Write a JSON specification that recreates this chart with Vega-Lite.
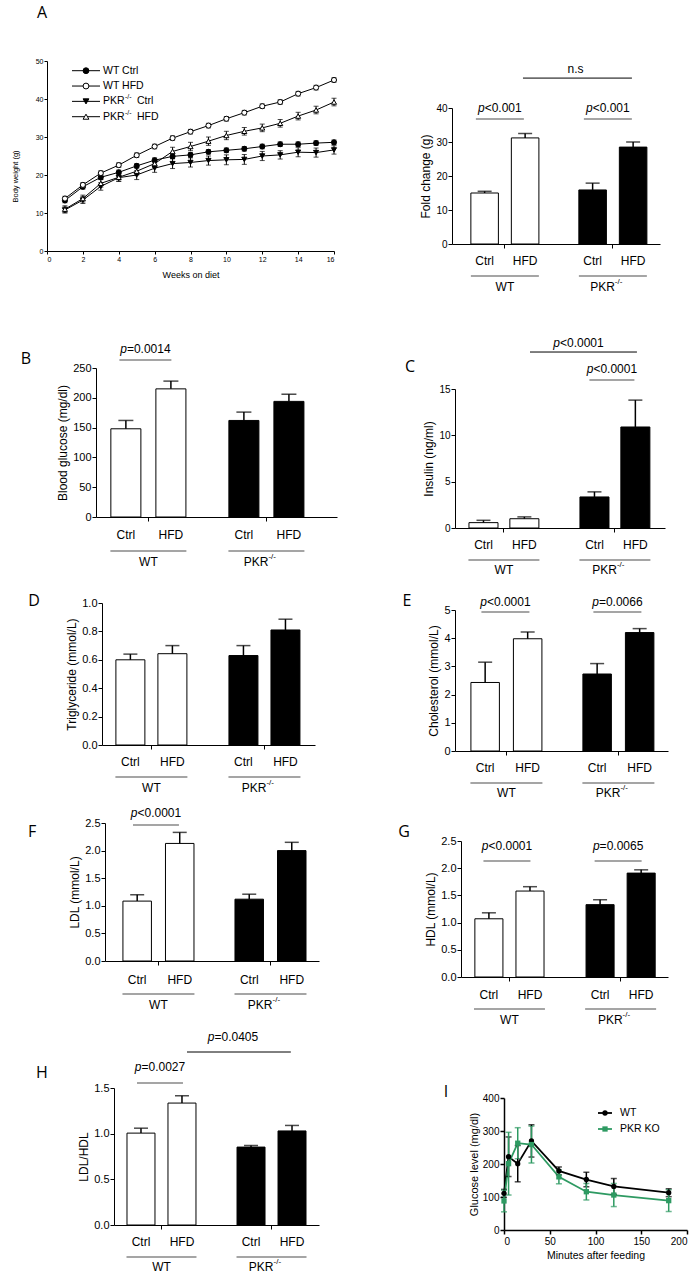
{
"$schema": "https://vega.github.io/schema/vega-lite/v6.json",
"width": 700, "height": 1276,
"autosize": {"type": "none"},
"padding": 0,
"background": "white",
"config": {
  "view": {"stroke": null},
  "font": "Liberation Sans",
  "axis": {"grid": false, "domainColor": "#000", "tickColor": "#000", "labelColor": "#000", "titleColor": "#000", "labelFont": "Liberation Sans", "titleFont": "Liberation Sans", "labelFontSize": 11, "titleFontSize": 12, "titleFontWeight": "normal", "tickSize": 4, "labelPadding": 1, "titlePadding": 3, "domainWidth": 1, "tickWidth": 1},
  "text": {"font": "Liberation Sans", "fontSize": 12, "color": "#000"},
  "tick": {"color": "#000"},
  "rule": {"color": "#000"}
},
"datasets": {
  "weight": [
    {"w":1,"s":"WT Ctrl","v":13.3,"e":0.6},{"w":2,"s":"WT Ctrl","v":16.9,"e":0.6},{"w":3,"s":"WT Ctrl","v":19.4,"e":0.6},{"w":4,"s":"WT Ctrl","v":20.7,"e":0.6},{"w":5,"s":"WT Ctrl","v":22.4,"e":0.6},{"w":6,"s":"WT Ctrl","v":23.9,"e":0.6},{"w":7,"s":"WT Ctrl","v":24.9,"e":0.6},{"w":8,"s":"WT Ctrl","v":25.3,"e":0.6},{"w":9,"s":"WT Ctrl","v":26.1,"e":0.6},{"w":10,"s":"WT Ctrl","v":26.5,"e":0.6},{"w":11,"s":"WT Ctrl","v":26.9,"e":0.6},{"w":12,"s":"WT Ctrl","v":27.5,"e":0.6},{"w":13,"s":"WT Ctrl","v":28.1,"e":0.6},{"w":14,"s":"WT Ctrl","v":28.1,"e":0.6},{"w":15,"s":"WT Ctrl","v":28.4,"e":0.6},{"w":16,"s":"WT Ctrl","v":28.6,"e":0.6},
    {"w":1,"s":"WT HFD","v":13.8,"e":0.6},{"w":2,"s":"WT HFD","v":17.4,"e":0.6},{"w":3,"s":"WT HFD","v":20.5,"e":0.6},{"w":4,"s":"WT HFD","v":22.6,"e":0.6},{"w":5,"s":"WT HFD","v":25.2,"e":0.6},{"w":6,"s":"WT HFD","v":27.5,"e":0.6},{"w":7,"s":"WT HFD","v":29.7,"e":0.6},{"w":8,"s":"WT HFD","v":31.4,"e":0.6},{"w":9,"s":"WT HFD","v":33.0,"e":0.6},{"w":10,"s":"WT HFD","v":34.8,"e":0.6},{"w":11,"s":"WT HFD","v":36.4,"e":0.6},{"w":12,"s":"WT HFD","v":38.1,"e":0.6},{"w":13,"s":"WT HFD","v":39.2,"e":0.6},{"w":14,"s":"WT HFD","v":41.4,"e":0.6},{"w":15,"s":"WT HFD","v":43.0,"e":0.6},{"w":16,"s":"WT HFD","v":45.0,"e":0.6},
    {"w":1,"s":"PKR Ctrl","v":10.8,"e":0.8},{"w":2,"s":"PKR Ctrl","v":13.4,"e":0.9},{"w":3,"s":"PKR Ctrl","v":17.0,"e":1.0},{"w":4,"s":"PKR Ctrl","v":19.3,"e":1.0},{"w":5,"s":"PKR Ctrl","v":20.0,"e":1.2},{"w":6,"s":"PKR Ctrl","v":21.8,"e":1.1},{"w":7,"s":"PKR Ctrl","v":23.0,"e":1.3},{"w":8,"s":"PKR Ctrl","v":23.3,"e":1.2},{"w":9,"s":"PKR Ctrl","v":23.8,"e":1.2},{"w":10,"s":"PKR Ctrl","v":24.0,"e":1.3},{"w":11,"s":"PKR Ctrl","v":24.1,"e":1.3},{"w":12,"s":"PKR Ctrl","v":25.0,"e":1.2},{"w":13,"s":"PKR Ctrl","v":25.3,"e":1.1},{"w":14,"s":"PKR Ctrl","v":26.0,"e":1.2},{"w":15,"s":"PKR Ctrl","v":25.9,"e":1.2},{"w":16,"s":"PKR Ctrl","v":26.6,"e":1.1},
    {"w":1,"s":"PKR HFD","v":11.0,"e":0.9},{"w":2,"s":"PKR HFD","v":13.8,"e":0.9},{"w":3,"s":"PKR HFD","v":17.8,"e":1.0},{"w":4,"s":"PKR HFD","v":19.4,"e":1.0},{"w":5,"s":"PKR HFD","v":21.0,"e":1.0},{"w":6,"s":"PKR HFD","v":23.0,"e":1.0},{"w":7,"s":"PKR HFD","v":26.2,"e":1.1},{"w":8,"s":"PKR HFD","v":27.5,"e":1.1},{"w":9,"s":"PKR HFD","v":28.9,"e":1.1},{"w":10,"s":"PKR HFD","v":30.4,"e":1.1},{"w":11,"s":"PKR HFD","v":31.5,"e":1.0},{"w":12,"s":"PKR HFD","v":32.4,"e":1.0},{"w":13,"s":"PKR HFD","v":33.6,"e":1.0},{"w":14,"s":"PKR HFD","v":35.5,"e":1.0},{"w":15,"s":"PKR HFD","v":37.1,"e":1.0},{"w":16,"s":"PKR HFD","v":39.2,"e":1.0}
  ],
  "wlegend": [
    {"s":"WT Ctrl","main":"WT Ctrl","sup":"","tail":""},
    {"s":"WT HFD","main":"WT HFD","sup":"","tail":""},
    {"s":"PKR Ctrl","main":"PKR","sup":"-/-","tail":"Ctrl"},
    {"s":"PKR HFD","main":"PKR","sup":"-/-","tail":"HFD"}
  ],
  "abar": [{"g":"WT","d":"Ctrl","v":15.0,"hi":15.5},{"g":"WT","d":"HFD","v":31.2,"hi":32.5},{"g":"PKR","d":"Ctrl","v":15.9,"hi":17.9},{"g":"PKR","d":"HFD","v":28.5,"hi":30.0}],
  "glucose": [{"g":"WT","d":"Ctrl","v":148,"hi":162},{"g":"WT","d":"HFD","v":215,"hi":228},{"g":"PKR","d":"Ctrl","v":162,"hi":176},{"g":"PKR","d":"HFD","v":194,"hi":206}],
  "insulin": [{"g":"WT","d":"Ctrl","v":0.58,"hi":0.83},{"g":"WT","d":"HFD","v":1.0,"hi":1.2},{"g":"PKR","d":"Ctrl","v":3.35,"hi":3.9},{"g":"PKR","d":"HFD","v":10.9,"hi":13.8}],
  "tg": [{"g":"WT","d":"Ctrl","v":0.60,"hi":0.64},{"g":"WT","d":"HFD","v":0.643,"hi":0.70},{"g":"PKR","d":"Ctrl","v":0.63,"hi":0.70},{"g":"PKR","d":"HFD","v":0.81,"hi":0.886}],
  "chol": [{"g":"WT","d":"Ctrl","v":2.43,"hi":3.15},{"g":"WT","d":"HFD","v":3.98,"hi":4.22},{"g":"PKR","d":"Ctrl","v":2.73,"hi":3.1},{"g":"PKR","d":"HFD","v":4.2,"hi":4.34}],
  "ldl": [{"g":"WT","d":"Ctrl","v":1.085,"hi":1.2},{"g":"WT","d":"HFD","v":2.13,"hi":2.33},{"g":"PKR","d":"Ctrl","v":1.12,"hi":1.21},{"g":"PKR","d":"HFD","v":2.0,"hi":2.15}],
  "hdl": [{"g":"WT","d":"Ctrl","v":1.07,"hi":1.18},{"g":"WT","d":"HFD","v":1.58,"hi":1.66},{"g":"PKR","d":"Ctrl","v":1.33,"hi":1.42},{"g":"PKR","d":"HFD","v":1.91,"hi":1.97}],
  "ratio": [{"g":"WT","d":"Ctrl","v":1.006,"hi":1.06},{"g":"WT","d":"HFD","v":1.335,"hi":1.415},{"g":"PKR","d":"Ctrl","v":0.853,"hi":0.87},{"g":"PKR","d":"HFD","v":1.03,"hi":1.09}],
  "groups": [{"g":"WT"},{"g":"PKR"}],
  "ogtt": [
    {"t":0,"s":"WT","v":111,"e":12},{"t":5,"s":"WT","v":222,"e":60},{"t":15,"s":"WT","v":201,"e":55},{"t":30,"s":"WT","v":270,"e":49},{"t":60,"s":"WT","v":179,"e":12},{"t":90,"s":"WT","v":153,"e":22},{"t":120,"s":"WT","v":132,"e":24},{"t":180,"s":"WT","v":113,"e":12},
    {"t":0,"s":"PKR KO","v":88,"e":33},{"t":5,"s":"PKR KO","v":201,"e":95},{"t":15,"s":"PKR KO","v":263,"e":47},{"t":30,"s":"PKR KO","v":259,"e":56},{"t":60,"s":"PKR KO","v":161,"e":21},{"t":90,"s":"PKR KO","v":116,"e":25},{"t":120,"s":"PKR KO","v":106,"e":35},{"t":180,"s":"PKR KO","v":89,"e":33}
  ]
},
"layer": [
{
  "layer": [
    {"data": {"name": "weight"},
     "layer": [
      {"mark": {"type": "line", "color": "#000", "strokeWidth": 1},
       "encoding": {
        "x": {"field": "w", "type": "quantitative", "title": "Weeks on diet", "scale": {"domain": [0,16], "range": [47,334], "nice": false}, "axis": {"orient": "bottom", "offset": -1025, "values": [0,2,4,6,8,10,12,14,16], "title": "Weeks on diet", "labelFontSize": 7, "titleFontSize": 9, "tickSize": 3, "titlePadding": 8}},
        "y": {"field": "v", "type": "quantitative", "title": "Body weight (g)", "scale": {"domain": [0,50], "range": [251,61], "nice": false}, "axis": {"orient": "left", "offset": -47, "values": [0,10,20,30,40,50], "title": "Body weight (g)", "titleY": 176, "labelFontSize": 7, "titleFontSize": 7.5, "tickSize": 3, "titlePadding": 16}},
        "detail": {"field": "s", "type": "nominal"}}},
      {"mark": {"type": "errorbar", "color": "#000", "thickness": 1, "ticks": {"size": 5}},
       "encoding": {"x": {"field": "w", "type": "quantitative", "title": "Weeks on diet"}, "y": {"field": "v", "type": "quantitative", "title": "Body weight (g)"}, "yError": {"field": "e"}}},
      {"mark": {"type": "point", "filled": true, "stroke": "#000", "strokeWidth": 1, "size": 26, "opacity": 1},
       "encoding": {"x": {"field": "w", "type": "quantitative", "title": "Weeks on diet"}, "y": {"field": "v", "type": "quantitative", "title": "Body weight (g)"},
        "shape": {"field": "s", "type": "nominal", "scale": {"domain": ["WT Ctrl","WT HFD","PKR Ctrl","PKR HFD"], "range": ["circle","circle","triangle-down","triangle-up"]}, "legend": null},
        "fill": {"field": "s", "type": "nominal", "scale": {"domain": ["WT Ctrl","WT HFD","PKR Ctrl","PKR HFD"], "range": ["#000000","#ffffff","#000000","#ffffff"]}, "legend": null}}},
      {"data": {"values": [{"letter": "A"}]},
       "mark": {"type": "text", "font": "Open Sans", "fontSize": 16, "baseline": "middle"},
       "encoding": {"x": {"datum": -0.279}, "y": {"datum": 62.6}, "text": {"field": "letter"}}}
     ]},
    {"data": {"name": "wlegend"},
     "layer": [
      {"mark": {"type": "rule", "strokeWidth": 1},
       "encoding": {"x": {"datum": 1.394}, "x2": {"datum": 2.955}, "y": {"field": "s", "type": "nominal", "sort": null, "scale": {"type": "point", "domain": ["WT Ctrl","WT HFD","PKR Ctrl","PKR HFD"], "range": [70.7,116.7], "padding": 0}, "axis": null}}},
      {"mark": {"type": "point", "filled": true, "stroke": "#000", "strokeWidth": 1, "size": 34, "opacity": 1},
       "encoding": {"x": {"datum": 2.174}, "y": {"field": "s", "type": "nominal"}, "shape": {"field": "s", "type": "nominal"}, "fill": {"field": "s", "type": "nominal"}}},
      {"mark": {"type": "text", "align": "left", "baseline": "middle", "fontSize": 10.5},
       "encoding": {"x": {"datum": 3.122}, "y": {"field": "s", "type": "nominal"}, "text": {"field": "main"}}},
      {"mark": {"type": "text", "align": "left", "baseline": "middle", "fontSize": 7, "dx": 22, "dy": -4},
       "encoding": {"x": {"datum": 3.122}, "y": {"field": "s", "type": "nominal"}, "text": {"field": "sup"}}},
      {"mark": {"type": "text", "align": "left", "baseline": "middle", "fontSize": 10.5, "dx": 34},
       "encoding": {"x": {"datum": 3.122}, "y": {"field": "s", "type": "nominal"}, "text": {"field": "tail"}}}
     ]}
  ],
  "resolve": {"scale": {"y": "independent"}}
},
{
  "data": {"name": "abar"},
  "layer": [
    {"mark": {"type": "bar", "stroke": "#000", "strokeWidth": 1},
     "encoding": {
      "x": {"field": "g", "type": "nominal", "sort": null, "scale": {"type": "band", "domain": ["WT","PKR"], "range": [452,660], "paddingInner": 0.37, "paddingOuter": 0.148, "align": 0.59}, "axis": {"orient": "bottom", "offset": -1032, "labels": false, "title": null}},
      "xOffset": {"field": "d", "type": "nominal", "sort": null, "scale": {"type": "band", "domain": ["Ctrl","HFD"], "paddingInner": 0.32, "paddingOuter": 0}},
      "y": {"field": "v", "type": "quantitative", "scale": {"domain": [0,40], "range": [244,108], "nice": false}, "axis": {"orient": "left", "offset": -452, "values": [0,10,20,30,40], "format": "d", "title": "Fold change (g)", "labelFontSize": 10}},
      "fill": {"field": "g", "type": "nominal", "scale": {"domain": ["WT","PKR"], "range": ["#ffffff","#000000"]}, "legend": null}}},
    {"mark": {"type": "rule", "strokeWidth": 1.5},
     "encoding": {"x": {"field": "g", "type": "nominal"}, "xOffset": {"field": "d", "type": "nominal"}, "y": {"field": "v", "type": "quantitative"}, "y2": {"field": "hi"}}},
    {"mark": {"type": "tick", "orient": "horizontal", "size": 14, "thickness": 1.5},
     "encoding": {"x": {"field": "g", "type": "nominal"}, "xOffset": {"field": "d", "type": "nominal"}, "y": {"field": "hi", "type": "quantitative"}}},
    {"mark": {"type": "text", "baseline": "middle"},
     "encoding": {"x": {"field": "g", "type": "nominal"}, "xOffset": {"field": "d", "type": "nominal"}, "y": {"datum": -5.0}, "text": {"field": "d"}}},
    {"data": {"name": "groups"}, "mark": {"type": "tick", "orient": "horizontal", "size": 68, "thickness": 1},
     "encoding": {"x": {"field": "g", "type": "nominal"}, "y": {"datum": -9.41}}},
    {"data": {"values": [{"g": "WT", "name": "WT"}]}, "mark": {"type": "text", "baseline": "middle"},
     "encoding": {"x": {"field": "g", "type": "nominal"}, "y": {"datum": -12.65}, "text": {"field": "name"}}},
    {"data": {"values": [{"g": "PKR", "name": "PKR"}]}, "mark": {"type": "text", "baseline": "middle", "align": "right", "dx": 2},
     "encoding": {"x": {"field": "g", "type": "nominal"}, "y": {"datum": -12.65}, "text": {"field": "name"}}},
    {"data": {"values": [{"g": "PKR", "sup": "-/-"}]}, "mark": {"type": "text", "baseline": "middle", "align": "left", "dx": 2, "dy": -5, "fontSize": 8},
     "encoding": {"x": {"field": "g", "type": "nominal"}, "y": {"datum": -12.65}, "text": {"field": "sup"}}},
    {"data": {"values": [{"g": "WT", "p": "<0.001"}, {"g": "PKR", "p": "<0.001"}]},
     "layer": [
      {"mark": {"type": "tick", "orient": "horizontal", "size": 48, "thickness": 1, "xOffset": -5},
       "encoding": {"x": {"field": "g", "type": "nominal"}, "y": {"datum": 36.76}}},
      {"mark": {"type": "text", "text": "p", "fontStyle": "italic", "align": "right", "baseline": "middle", "dx": -20.2},
       "encoding": {"x": {"field": "g", "type": "nominal"}, "y": {"datum": 40}}},
      {"mark": {"type": "text", "align": "left", "baseline": "middle", "dx": -20.2},
       "encoding": {"x": {"field": "g", "type": "nominal"}, "y": {"datum": 40}, "text": {"field": "p"}}}
     ]},
    {"data": {"values": [{"lab": "n.s"}]},
     "layer": [
      {"mark": {"type": "rule", "strokeWidth": 1},
       "encoding": {"x": {"datum": "WT", "bandPosition": 0.766}, "x2": {"datum": "PKR", "bandPosition": 0.78}, "y": {"datum": 48.8}}},
      {"mark": {"type": "text", "baseline": "middle", "dx": -2},
       "encoding": {"x": {"datum": "WT", "bandPosition": 1.567}, "y": {"datum": 51.5}, "text": {"field": "lab"}}}
     ]}
  ]
},
{
  "data": {"name": "glucose"},
  "layer": [
    {"mark": {"type": "bar", "stroke": "#000", "strokeWidth": 1},
     "encoding": {
      "x": {"field": "g", "type": "nominal", "sort": null, "scale": {"type": "band", "domain": ["WT","PKR"], "range": [96,337], "paddingInner": 0.364, "paddingOuter": 0.203, "align": 0.31}, "axis": {"orient": "bottom", "offset": -759, "labels": false, "title": null}},
      "xOffset": {"field": "d", "type": "nominal", "sort": null, "scale": {"type": "band", "domain": ["Ctrl","HFD"], "paddingInner": 0.333, "paddingOuter": 0}},
      "y": {"field": "v", "type": "quantitative", "scale": {"domain": [0,250], "range": [517,368], "nice": false}, "axis": {"orient": "left", "offset": -96, "values": [0,50,100,150,200,250], "format": "d", "title": "Blood glucose (mg/dl)"}},
      "fill": {"field": "g", "type": "nominal", "scale": {"domain": ["WT","PKR"], "range": ["#ffffff","#000000"]}, "legend": null}}},
    {"mark": {"type": "rule", "strokeWidth": 1.5},
     "encoding": {"x": {"field": "g", "type": "nominal"}, "xOffset": {"field": "d", "type": "nominal"}, "y": {"field": "v", "type": "quantitative"}, "y2": {"field": "hi"}}},
    {"mark": {"type": "tick", "orient": "horizontal", "size": 15, "thickness": 1.5},
     "encoding": {"x": {"field": "g", "type": "nominal"}, "xOffset": {"field": "d", "type": "nominal"}, "y": {"field": "hi", "type": "quantitative"}}},
    {"mark": {"type": "text", "baseline": "middle"},
     "encoding": {"x": {"field": "g", "type": "nominal"}, "xOffset": {"field": "d", "type": "nominal"}, "y": {"datum": -30.2}, "text": {"field": "d"}}},
    {"data": {"name": "groups"}, "mark": {"type": "tick", "orient": "horizontal", "size": 76, "thickness": 1},
     "encoding": {"x": {"field": "g", "type": "nominal"}, "y": {"datum": -57.0}}},
    {"data": {"values": [{"g": "WT", "name": "WT"}]}, "mark": {"type": "text", "baseline": "middle"},
     "encoding": {"x": {"field": "g", "type": "nominal"}, "y": {"datum": -75.5}, "text": {"field": "name"}}},
    {"data": {"values": [{"g": "PKR", "name": "PKR"}]}, "mark": {"type": "text", "baseline": "middle", "align": "right", "dx": 2},
     "encoding": {"x": {"field": "g", "type": "nominal"}, "y": {"datum": -75.5}, "text": {"field": "name"}}},
    {"data": {"values": [{"g": "PKR", "sup": "-/-"}]}, "mark": {"type": "text", "baseline": "middle", "align": "left", "dx": 2, "dy": -5, "fontSize": 8},
     "encoding": {"x": {"field": "g", "type": "nominal"}, "y": {"datum": -75.5}, "text": {"field": "sup"}}},
    {"data": {"values": [{"g": "WT", "p": "=0.0014"}]},
     "layer": [
      {"mark": {"type": "tick", "orient": "horizontal", "size": 52, "thickness": 1, "xOffset": -3},
       "encoding": {"x": {"field": "g", "type": "nominal"}, "y": {"datum": 263.4}}},
      {"mark": {"type": "text", "text": "p", "fontStyle": "italic", "align": "right", "baseline": "middle", "dx": -21.5},
       "encoding": {"x": {"field": "g", "type": "nominal"}, "y": {"datum": 281.9}}},
      {"mark": {"type": "text", "align": "left", "baseline": "middle", "dx": -21.5},
       "encoding": {"x": {"field": "g", "type": "nominal"}, "y": {"datum": 281.9}, "text": {"field": "p"}}}
     ]},
    {"data": {"values": [{"letter": "B"}]},
     "mark": {"type": "text", "font": "Open Sans", "fontSize": 16, "baseline": "middle"},
     "encoding": {"x": {"datum": "WT", "bandPosition": -1.131}, "y": {"datum": 265.1}, "text": {"field": "letter"}}}
  ]
},
{
  "data": {"name": "insulin"},
  "layer": [
    {"mark": {"type": "bar", "stroke": "#000", "strokeWidth": 1},
     "encoding": {
      "x": {"field": "g", "type": "nominal", "sort": null, "scale": {"type": "band", "domain": ["WT","PKR"], "range": [455,665], "paddingInner": 0.37, "paddingOuter": 0.131, "align": 0.48}, "axis": {"orient": "bottom", "offset": -748, "labels": false, "title": null}},
      "xOffset": {"field": "d", "type": "nominal", "sort": null, "scale": {"type": "band", "domain": ["Ctrl","HFD"], "paddingInner": 0.29, "paddingOuter": 0}},
      "y": {"field": "v", "type": "quantitative", "scale": {"domain": [0,15], "range": [528,389], "nice": false}, "axis": {"orient": "left", "offset": -455, "values": [0,5,10,15], "format": "d", "title": "Insulin (ng/ml)", "labelFontSize": 10}},
      "fill": {"field": "g", "type": "nominal", "scale": {"domain": ["WT","PKR"], "range": ["#ffffff","#000000"]}, "legend": null}}},
    {"mark": {"type": "rule", "strokeWidth": 1.5},
     "encoding": {"x": {"field": "g", "type": "nominal"}, "xOffset": {"field": "d", "type": "nominal"}, "y": {"field": "v", "type": "quantitative"}, "y2": {"field": "hi"}}},
    {"mark": {"type": "tick", "orient": "horizontal", "size": 14, "thickness": 1.5},
     "encoding": {"x": {"field": "g", "type": "nominal"}, "xOffset": {"field": "d", "type": "nominal"}, "y": {"field": "hi", "type": "quantitative"}}},
    {"mark": {"type": "text", "baseline": "middle"},
     "encoding": {"x": {"field": "g", "type": "nominal"}, "xOffset": {"field": "d", "type": "nominal"}, "y": {"datum": -1.83}, "text": {"field": "d"}}},
    {"data": {"name": "groups"}, "mark": {"type": "tick", "orient": "horizontal", "size": 71, "thickness": 1},
     "encoding": {"x": {"field": "g", "type": "nominal"}, "y": {"datum": -3.45}}},
    {"data": {"values": [{"g": "WT", "name": "WT"}]}, "mark": {"type": "text", "baseline": "middle"},
     "encoding": {"x": {"field": "g", "type": "nominal"}, "y": {"datum": -4.53}, "text": {"field": "name"}}},
    {"data": {"values": [{"g": "PKR", "name": "PKR"}]}, "mark": {"type": "text", "baseline": "middle", "align": "right", "dx": 2},
     "encoding": {"x": {"field": "g", "type": "nominal"}, "y": {"datum": -4.53}, "text": {"field": "name"}}},
    {"data": {"values": [{"g": "PKR", "sup": "-/-"}]}, "mark": {"type": "text", "baseline": "middle", "align": "left", "dx": 2, "dy": -5, "fontSize": 8},
     "encoding": {"x": {"field": "g", "type": "nominal"}, "y": {"datum": -4.53}, "text": {"field": "sup"}}},
    {"data": {"values": [{"g": "PKR", "p": "<0.0001"}]},
     "layer": [
      {"mark": {"type": "tick", "orient": "horizontal", "size": 45, "thickness": 1, "xOffset": -3},
       "encoding": {"x": {"field": "g", "type": "nominal"}, "y": {"datum": 15.97}}},
      {"mark": {"type": "text", "text": "p", "fontStyle": "italic", "align": "right", "baseline": "middle", "dx": -21.5},
       "encoding": {"x": {"field": "g", "type": "nominal"}, "y": {"datum": 17.16}}},
      {"mark": {"type": "text", "align": "left", "baseline": "middle", "dx": -21.5},
       "encoding": {"x": {"field": "g", "type": "nominal"}, "y": {"datum": 17.16}, "text": {"field": "p"}}}
     ]},
    {"data": {"values": [{"p": "<0.0001"}]},
     "layer": [
      {"mark": {"type": "rule", "strokeWidth": 1},
       "encoding": {"x": {"datum": "WT", "bandPosition": 0.873}, "x2": {"datum": "PKR", "bandPosition": 0.815}, "y": {"datum": 18.99}}},
      {"mark": {"type": "text", "text": "p", "fontStyle": "italic", "align": "right", "baseline": "middle", "dx": -23.5},
       "encoding": {"x": {"datum": "WT", "bandPosition": 1.638}, "y": {"datum": 19.96}}},
      {"mark": {"type": "text", "align": "left", "baseline": "middle", "dx": -23.5},
       "encoding": {"x": {"datum": "WT", "bandPosition": 1.638}, "y": {"datum": 19.96}, "text": {"field": "p"}}}
     ]},
    {"data": {"values": [{"letter": "C"}]},
     "mark": {"type": "text", "font": "Open Sans", "fontSize": 16, "baseline": "middle"},
     "encoding": {"x": {"datum": "WT", "bandPosition": -0.844}, "y": {"datum": 17.37}, "text": {"field": "letter"}}}
  ]
},
{
  "data": {"name": "tg"},
  "layer": [
    {"mark": {"type": "bar", "stroke": "#000", "strokeWidth": 1},
     "encoding": {
      "x": {"field": "g", "type": "nominal", "sort": null, "scale": {"type": "band", "domain": ["WT","PKR"], "range": [102,315], "paddingInner": 0.372, "paddingOuter": 0.128, "align": 0.48}, "axis": {"orient": "bottom", "offset": -531, "labels": false, "title": null}},
      "xOffset": {"field": "d", "type": "nominal", "sort": null, "scale": {"type": "band", "domain": ["Ctrl","HFD"], "paddingInner": 0.31, "paddingOuter": 0}},
      "y": {"field": "v", "type": "quantitative", "scale": {"domain": [0,1], "range": [745,603], "nice": false}, "axis": {"orient": "left", "offset": -102, "values": [0,0.2,0.4,0.6,0.8,1.0], "format": ".1f", "title": "Triglyceride (mmol/L)"}},
      "fill": {"field": "g", "type": "nominal", "scale": {"domain": ["WT","PKR"], "range": ["#ffffff","#000000"]}, "legend": null}}},
    {"mark": {"type": "rule", "strokeWidth": 1.5},
     "encoding": {"x": {"field": "g", "type": "nominal"}, "xOffset": {"field": "d", "type": "nominal"}, "y": {"field": "v", "type": "quantitative"}, "y2": {"field": "hi"}}},
    {"mark": {"type": "tick", "orient": "horizontal", "size": 14, "thickness": 1.5},
     "encoding": {"x": {"field": "g", "type": "nominal"}, "xOffset": {"field": "d", "type": "nominal"}, "y": {"field": "hi", "type": "quantitative"}}},
    {"mark": {"type": "text", "baseline": "middle"},
     "encoding": {"x": {"field": "g", "type": "nominal"}, "xOffset": {"field": "d", "type": "nominal"}, "y": {"datum": -0.1197}, "text": {"field": "d"}}},
    {"data": {"name": "groups"}, "mark": {"type": "tick", "orient": "horizontal", "size": 72, "thickness": 1},
     "encoding": {"x": {"field": "g", "type": "nominal"}, "y": {"datum": -0.2254}}},
    {"data": {"values": [{"g": "WT", "name": "WT"}]}, "mark": {"type": "text", "baseline": "middle"},
     "encoding": {"x": {"field": "g", "type": "nominal"}, "y": {"datum": -0.303}, "text": {"field": "name"}}},
    {"data": {"values": [{"g": "PKR", "name": "PKR"}]}, "mark": {"type": "text", "baseline": "middle", "align": "right", "dx": 2},
     "encoding": {"x": {"field": "g", "type": "nominal"}, "y": {"datum": -0.303}, "text": {"field": "name"}}},
    {"data": {"values": [{"g": "PKR", "sup": "-/-"}]}, "mark": {"type": "text", "baseline": "middle", "align": "left", "dx": 2, "dy": -5, "fontSize": 8},
     "encoding": {"x": {"field": "g", "type": "nominal"}, "y": {"datum": -0.303}, "text": {"field": "sup"}}},
    {"data": {"values": [{"letter": "D"}]},
     "mark": {"type": "text", "font": "Open Sans", "fontSize": 16, "baseline": "middle"},
     "encoding": {"x": {"datum": "WT", "bandPosition": -1.153}, "y": {"datum": 1.014}, "text": {"field": "letter"}}}
  ]
},
{
  "data": {"name": "chol"},
  "layer": [
    {"mark": {"type": "bar", "stroke": "#000", "strokeWidth": 1},
     "encoding": {
      "x": {"field": "g", "type": "nominal", "sort": null, "scale": {"type": "band", "domain": ["WT","PKR"], "range": [455,668], "paddingInner": 0.366, "paddingOuter": 0.134, "align": 0.53}, "axis": {"orient": "bottom", "offset": -525, "labels": false, "title": null}},
      "xOffset": {"field": "d", "type": "nominal", "sort": null, "scale": {"type": "band", "domain": ["Ctrl","HFD"], "paddingInner": 0.33, "paddingOuter": 0}},
      "y": {"field": "v", "type": "quantitative", "scale": {"domain": [0,5], "range": [751,610], "nice": false}, "axis": {"orient": "left", "offset": -455, "values": [0,1,2,3,4,5], "format": "d", "title": "Cholesterol (mmol/L)"}},
      "fill": {"field": "g", "type": "nominal", "scale": {"domain": ["WT","PKR"], "range": ["#ffffff","#000000"]}, "legend": null}}},
    {"mark": {"type": "rule", "strokeWidth": 1.5},
     "encoding": {"x": {"field": "g", "type": "nominal"}, "xOffset": {"field": "d", "type": "nominal"}, "y": {"field": "v", "type": "quantitative"}, "y2": {"field": "hi"}}},
    {"mark": {"type": "tick", "orient": "horizontal", "size": 14, "thickness": 1.5},
     "encoding": {"x": {"field": "g", "type": "nominal"}, "xOffset": {"field": "d", "type": "nominal"}, "y": {"field": "hi", "type": "quantitative"}}},
    {"mark": {"type": "text", "baseline": "middle"},
     "encoding": {"x": {"field": "g", "type": "nominal"}, "xOffset": {"field": "d", "type": "nominal"}, "y": {"datum": -0.603}, "text": {"field": "d"}}},
    {"data": {"name": "groups"}, "mark": {"type": "tick", "orient": "horizontal", "size": 72, "thickness": 1},
     "encoding": {"x": {"field": "g", "type": "nominal"}, "y": {"datum": -1.135}}},
    {"data": {"values": [{"g": "WT", "name": "WT"}]}, "mark": {"type": "text", "baseline": "middle"},
     "encoding": {"x": {"field": "g", "type": "nominal"}, "y": {"datum": -1.489}, "text": {"field": "name"}}},
    {"data": {"values": [{"g": "PKR", "name": "PKR"}]}, "mark": {"type": "text", "baseline": "middle", "align": "right", "dx": 2},
     "encoding": {"x": {"field": "g", "type": "nominal"}, "y": {"datum": -1.489}, "text": {"field": "name"}}},
    {"data": {"values": [{"g": "PKR", "sup": "-/-"}]}, "mark": {"type": "text", "baseline": "middle", "align": "left", "dx": 2, "dy": -5, "fontSize": 8},
     "encoding": {"x": {"field": "g", "type": "nominal"}, "y": {"datum": -1.489}, "text": {"field": "sup"}}},
    {"data": {"values": [{"g": "WT", "p": "<0.0001"}, {"g": "PKR", "p": "=0.0066"}]},
     "layer": [
      {"mark": {"type": "tick", "orient": "horizontal", "size": 48, "thickness": 1, "xOffset": -1},
       "encoding": {"x": {"field": "g", "type": "nominal"}, "y": {"datum": 4.93}}},
      {"mark": {"type": "text", "text": "p", "fontStyle": "italic", "align": "right", "baseline": "middle", "dx": -19.5},
       "encoding": {"x": {"field": "g", "type": "nominal"}, "y": {"datum": 5.28}}},
      {"mark": {"type": "text", "align": "left", "baseline": "middle", "dx": -19.5},
       "encoding": {"x": {"field": "g", "type": "nominal"}, "y": {"datum": 5.28}, "text": {"field": "p"}}}
     ]},
    {"data": {"values": [{"letter": "E"}]},
     "mark": {"type": "text", "font": "Open Sans", "fontSize": 16, "baseline": "middle"},
     "encoding": {"x": {"datum": "WT", "bandPosition": -0.9}, "y": {"datum": 5.319}, "text": {"field": "letter"}}}
  ]
},
{
  "data": {"name": "ldl"},
  "layer": [
    {"mark": {"type": "bar", "stroke": "#000", "strokeWidth": 1},
     "encoding": {
      "x": {"field": "g", "type": "nominal", "sort": null, "scale": {"type": "band", "domain": ["WT","PKR"], "range": [105,319], "paddingInner": 0.366, "paddingOuter": 0.138, "align": 0.58}, "axis": {"orient": "bottom", "offset": -315, "labels": false, "title": null}},
      "xOffset": {"field": "d", "type": "nominal", "sort": null, "scale": {"type": "band", "domain": ["Ctrl","HFD"], "paddingInner": 0.33, "paddingOuter": 0}},
      "y": {"field": "v", "type": "quantitative", "scale": {"domain": [0,2.5], "range": [961,823], "nice": false}, "axis": {"orient": "left", "offset": -105, "values": [0,0.5,1,1.5,2,2.5], "format": ".1f", "title": "LDL (mmol/L)"}},
      "fill": {"field": "g", "type": "nominal", "scale": {"domain": ["WT","PKR"], "range": ["#ffffff","#000000"]}, "legend": null}}},
    {"mark": {"type": "rule", "strokeWidth": 1.5},
     "encoding": {"x": {"field": "g", "type": "nominal"}, "xOffset": {"field": "d", "type": "nominal"}, "y": {"field": "v", "type": "quantitative"}, "y2": {"field": "hi"}}},
    {"mark": {"type": "tick", "orient": "horizontal", "size": 14, "thickness": 1.5},
     "encoding": {"x": {"field": "g", "type": "nominal"}, "xOffset": {"field": "d", "type": "nominal"}, "y": {"field": "hi", "type": "quantitative"}}},
    {"mark": {"type": "text", "baseline": "middle"},
     "encoding": {"x": {"field": "g", "type": "nominal"}, "xOffset": {"field": "d", "type": "nominal"}, "y": {"datum": -0.344}, "text": {"field": "d"}}},
    {"data": {"name": "groups"}, "mark": {"type": "tick", "orient": "horizontal", "size": 72, "thickness": 1},
     "encoding": {"x": {"field": "g", "type": "nominal"}, "y": {"datum": -0.598}}},
    {"data": {"values": [{"g": "WT", "name": "WT"}]}, "mark": {"type": "text", "baseline": "middle"},
     "encoding": {"x": {"field": "g", "type": "nominal"}, "y": {"datum": -0.797}, "text": {"field": "name"}}},
    {"data": {"values": [{"g": "PKR", "name": "PKR"}]}, "mark": {"type": "text", "baseline": "middle", "align": "right", "dx": 2},
     "encoding": {"x": {"field": "g", "type": "nominal"}, "y": {"datum": -0.797}, "text": {"field": "name"}}},
    {"data": {"values": [{"g": "PKR", "sup": "-/-"}]}, "mark": {"type": "text", "baseline": "middle", "align": "left", "dx": 2, "dy": -5, "fontSize": 8},
     "encoding": {"x": {"field": "g", "type": "nominal"}, "y": {"datum": -0.797}, "text": {"field": "sup"}}},
    {"data": {"values": [{"g": "WT", "p": "<0.0001"}]},
     "layer": [
      {"mark": {"type": "tick", "orient": "horizontal", "size": 46, "thickness": 1, "xOffset": -2.5},
       "encoding": {"x": {"field": "g", "type": "nominal"}, "y": {"datum": 2.464}}},
      {"mark": {"type": "text", "text": "p", "fontStyle": "italic", "align": "right", "baseline": "middle", "dx": -21},
       "encoding": {"x": {"field": "g", "type": "nominal"}, "y": {"datum": 2.68}}},
      {"mark": {"type": "text", "align": "left", "baseline": "middle", "dx": -21},
       "encoding": {"x": {"field": "g", "type": "nominal"}, "y": {"datum": 2.68}, "text": {"field": "p"}}}
     ]},
    {"data": {"values": [{"letter": "F"}]},
     "mark": {"type": "text", "font": "Open Sans", "fontSize": 16, "baseline": "middle"},
     "encoding": {"x": {"datum": "WT", "bandPosition": -1.28}, "y": {"datum": 2.337}, "text": {"field": "letter"}}}
  ]
},
{
  "data": {"name": "hdl"},
  "layer": [
    {"mark": {"type": "bar", "stroke": "#000", "strokeWidth": 1},
     "encoding": {
      "x": {"field": "g", "type": "nominal", "sort": null, "scale": {"type": "band", "domain": ["WT","PKR"], "range": [461,668], "paddingInner": 0.378, "paddingOuter": 0.12, "align": 0.52}, "axis": {"orient": "bottom", "offset": -299, "labels": false, "title": null}},
      "xOffset": {"field": "d", "type": "nominal", "sort": null, "scale": {"type": "band", "domain": ["Ctrl","HFD"], "paddingInner": 0.317, "paddingOuter": 0}},
      "y": {"field": "v", "type": "quantitative", "scale": {"domain": [0,2.5], "range": [977,841], "nice": false}, "axis": {"orient": "left", "offset": -461, "values": [0,0.5,1,1.5,2,2.5], "format": ".1f", "title": "HDL (mmol/L)"}},
      "fill": {"field": "g", "type": "nominal", "scale": {"domain": ["WT","PKR"], "range": ["#ffffff","#000000"]}, "legend": null}}},
    {"mark": {"type": "rule", "strokeWidth": 1.5},
     "encoding": {"x": {"field": "g", "type": "nominal"}, "xOffset": {"field": "d", "type": "nominal"}, "y": {"field": "v", "type": "quantitative"}, "y2": {"field": "hi"}}},
    {"mark": {"type": "tick", "orient": "horizontal", "size": 14, "thickness": 1.5},
     "encoding": {"x": {"field": "g", "type": "nominal"}, "xOffset": {"field": "d", "type": "nominal"}, "y": {"field": "hi", "type": "quantitative"}}},
    {"mark": {"type": "text", "baseline": "middle"},
     "encoding": {"x": {"field": "g", "type": "nominal"}, "xOffset": {"field": "d", "type": "nominal"}, "y": {"datum": -0.331}, "text": {"field": "d"}}},
    {"data": {"name": "groups"}, "mark": {"type": "tick", "orient": "horizontal", "size": 71, "thickness": 1},
     "encoding": {"x": {"field": "g", "type": "nominal"}, "y": {"datum": -0.588}}},
    {"data": {"values": [{"g": "WT", "name": "WT"}]}, "mark": {"type": "text", "baseline": "middle"},
     "encoding": {"x": {"field": "g", "type": "nominal"}, "y": {"datum": -0.79}, "text": {"field": "name"}}},
    {"data": {"values": [{"g": "PKR", "name": "PKR"}]}, "mark": {"type": "text", "baseline": "middle", "align": "right", "dx": 2},
     "encoding": {"x": {"field": "g", "type": "nominal"}, "y": {"datum": -0.79}, "text": {"field": "name"}}},
    {"data": {"values": [{"g": "PKR", "sup": "-/-"}]}, "mark": {"type": "text", "baseline": "middle", "align": "left", "dx": 2, "dy": -5, "fontSize": 8},
     "encoding": {"x": {"field": "g", "type": "nominal"}, "y": {"datum": -0.79}, "text": {"field": "sup"}}},
    {"data": {"values": [{"g": "WT", "p": "<0.0001"}, {"g": "PKR", "p": "=0.0065"}]},
     "layer": [
      {"mark": {"type": "tick", "orient": "horizontal", "size": 47, "thickness": 1, "xOffset": -2.5},
       "encoding": {"x": {"field": "g", "type": "nominal"}, "y": {"datum": 2.132}}},
      {"mark": {"type": "text", "text": "p", "fontStyle": "italic", "align": "right", "baseline": "middle", "dx": -21},
       "encoding": {"x": {"field": "g", "type": "nominal"}, "y": {"datum": 2.408}}},
      {"mark": {"type": "text", "align": "left", "baseline": "middle", "dx": -21},
       "encoding": {"x": {"field": "g", "type": "nominal"}, "y": {"datum": 2.408}, "text": {"field": "p"}}}
     ]},
    {"data": {"values": [{"letter": "G"}]},
     "mark": {"type": "text", "font": "Open Sans", "fontSize": 16, "baseline": "middle"},
     "encoding": {"x": {"datum": "WT", "bandPosition": -1.025}, "y": {"datum": 2.665}, "text": {"field": "letter"}}}
  ]
},
{
  "data": {"name": "ratio"},
  "layer": [
    {"mark": {"type": "bar", "stroke": "#000", "strokeWidth": 1},
     "encoding": {
      "x": {"field": "g", "type": "nominal", "sort": null, "scale": {"type": "band", "domain": ["WT","PKR"], "range": [114,319], "paddingInner": 0.373, "paddingOuter": 0.118, "align": 0.5}, "axis": {"orient": "bottom", "offset": -51, "labels": false, "title": null}},
      "xOffset": {"field": "d", "type": "nominal", "sort": null, "scale": {"type": "band", "domain": ["Ctrl","HFD"], "paddingInner": 0.317, "paddingOuter": 0}},
      "y": {"field": "v", "type": "quantitative", "scale": {"domain": [0,1.5], "range": [1225,1088], "nice": false}, "axis": {"orient": "left", "offset": -114, "values": [0,0.5,1,1.5], "format": ".1f", "title": "LDL/HDL"}},
      "fill": {"field": "g", "type": "nominal", "scale": {"domain": ["WT","PKR"], "range": ["#ffffff","#000000"]}, "legend": null}}},
    {"mark": {"type": "rule", "strokeWidth": 1.5},
     "encoding": {"x": {"field": "g", "type": "nominal"}, "xOffset": {"field": "d", "type": "nominal"}, "y": {"field": "v", "type": "quantitative"}, "y2": {"field": "hi"}}},
    {"mark": {"type": "tick", "orient": "horizontal", "size": 14, "thickness": 1.5},
     "encoding": {"x": {"field": "g", "type": "nominal"}, "xOffset": {"field": "d", "type": "nominal"}, "y": {"field": "hi", "type": "quantitative"}}},
    {"mark": {"type": "text", "baseline": "middle"},
     "encoding": {"x": {"field": "g", "type": "nominal"}, "xOffset": {"field": "d", "type": "nominal"}, "y": {"datum": -0.186}, "text": {"field": "d"}}},
    {"data": {"name": "groups"}, "mark": {"type": "tick", "orient": "horizontal", "size": 70, "thickness": 1},
     "encoding": {"x": {"field": "g", "type": "nominal"}, "y": {"datum": -0.35}}},
    {"data": {"values": [{"g": "WT", "name": "WT"}]}, "mark": {"type": "text", "baseline": "middle"},
     "encoding": {"x": {"field": "g", "type": "nominal"}, "y": {"datum": -0.46}, "text": {"field": "name"}}},
    {"data": {"values": [{"g": "PKR", "name": "PKR"}]}, "mark": {"type": "text", "baseline": "middle", "align": "right", "dx": 2},
     "encoding": {"x": {"field": "g", "type": "nominal"}, "y": {"datum": -0.46}, "text": {"field": "name"}}},
    {"data": {"values": [{"g": "PKR", "sup": "-/-"}]}, "mark": {"type": "text", "baseline": "middle", "align": "left", "dx": 2, "dy": -5, "fontSize": 8},
     "encoding": {"x": {"field": "g", "type": "nominal"}, "y": {"datum": -0.46}, "text": {"field": "sup"}}},
    {"data": {"values": [{"g": "WT", "p": "=0.0027"}]},
     "layer": [
      {"mark": {"type": "tick", "orient": "horizontal", "size": 46, "thickness": 1, "xOffset": -1.5},
       "encoding": {"x": {"field": "g", "type": "nominal"}, "y": {"datum": 1.555}}},
      {"mark": {"type": "text", "text": "p", "fontStyle": "italic", "align": "right", "baseline": "middle", "dx": -20},
       "encoding": {"x": {"field": "g", "type": "nominal"}, "y": {"datum": 1.73}}},
      {"mark": {"type": "text", "align": "left", "baseline": "middle", "dx": -20},
       "encoding": {"x": {"field": "g", "type": "nominal"}, "y": {"datum": 1.73}, "text": {"field": "p"}}}
     ]},
    {"data": {"values": [{"p": "=0.0405"}]},
     "layer": [
      {"mark": {"type": "rule", "strokeWidth": 1},
       "encoding": {"x": {"datum": "WT", "bandPosition": 0.87}, "x2": {"datum": "PKR", "bandPosition": 0.78}, "y": {"datum": 1.894}}},
      {"mark": {"type": "text", "text": "p", "fontStyle": "italic", "align": "right", "baseline": "middle", "dx": -24.5},
       "encoding": {"x": {"datum": "WT", "bandPosition": 1.623}, "y": {"datum": 2.058}}},
      {"mark": {"type": "text", "align": "left", "baseline": "middle", "dx": -24.5},
       "encoding": {"x": {"datum": "WT", "bandPosition": 1.623}, "y": {"datum": 2.058}, "text": {"field": "p"}}}
     ]},
    {"data": {"values": [{"letter": "H"}]},
     "mark": {"type": "text", "font": "Open Sans", "fontSize": 16, "baseline": "middle"},
     "encoding": {"x": {"datum": "WT", "bandPosition": -1.232}, "y": {"datum": 1.664}, "text": {"field": "letter"}}}
  ]
},
{
  "layer": [
    {"data": {"name": "ogtt"},
     "layer": [
      {"mark": {"type": "line", "strokeWidth": 1.8},
       "encoding": {
        "x": {"field": "t", "type": "quantitative", "title": "Minutes after feeding", "scale": {"domain": [0,200], "range": [504,687], "nice": false}, "axis": {"orient": "bottom", "offset": -46, "values": [0,50,100,150,200], "title": "Minutes after feeding", "labelFontSize": 10, "titleFontSize": 10.5, "domainWidth": 1.5, "tickWidth": 1.5, "labelPadding": 2, "titlePadding": 4}},
        "y": {"field": "v", "type": "quantitative", "title": "Glucose level (mg/dl)", "scale": {"domain": [0,400], "range": [1230,1098], "nice": false}, "axis": {"orient": "left", "offset": -504, "values": [0,100,200,300,400], "title": "Glucose level (mg/dl)", "labelFontSize": 10, "titleFontSize": 11, "domainWidth": 1.5, "tickWidth": 1.5, "titlePadding": 3}},
        "color": {"field": "s", "type": "nominal", "scale": {"domain": ["WT","PKR KO"], "range": ["#000000","#2e9a62"]}, "legend": null}}},
      {"mark": {"type": "errorbar", "thickness": 1.5, "ticks": {"size": 6}},
       "encoding": {"x": {"field": "t", "type": "quantitative", "title": "Minutes after feeding"}, "y": {"field": "v", "type": "quantitative", "title": "Glucose level (mg/dl)"}, "yError": {"field": "e"}, "color": {"field": "s", "type": "nominal"}}},
      {"mark": {"type": "point", "filled": true, "size": 28, "opacity": 1},
       "encoding": {"x": {"field": "t", "type": "quantitative", "title": "Minutes after feeding"}, "y": {"field": "v", "type": "quantitative", "title": "Glucose level (mg/dl)"}, "color": {"field": "s", "type": "nominal"},
        "shape": {"field": "s", "type": "nominal", "scale": {"domain": ["WT","PKR KO"], "range": ["circle","square"]}, "legend": null}}},
      {"data": {"values": [{"letter": "I"}]},
       "mark": {"type": "text", "font": "Open Sans", "fontSize": 16, "baseline": "middle"},
       "encoding": {"x": {"datum": -63.4}, "y": {"datum": 418.2}, "text": {"field": "letter"}}}
     ]},
    {"data": {"values": [{"s": "WT"}, {"s": "PKR KO"}]},
     "layer": [
      {"mark": {"type": "rule", "strokeWidth": 1.8},
       "encoding": {"x": {"datum": 102.7}, "x2": {"datum": 118.0}, "y": {"field": "s", "type": "nominal", "sort": null, "scale": {"type": "point", "domain": ["WT","PKR KO"], "range": [1113,1129], "padding": 0}, "axis": null}, "color": {"field": "s", "type": "nominal"}}},
      {"mark": {"type": "point", "filled": true, "size": 28, "opacity": 1},
       "encoding": {"x": {"datum": 110.4}, "y": {"field": "s", "type": "nominal"}, "color": {"field": "s", "type": "nominal"}, "shape": {"field": "s", "type": "nominal"}}},
      {"mark": {"type": "text", "align": "left", "baseline": "middle", "fontSize": 10.5},
       "encoding": {"x": {"datum": 126.8}, "y": {"field": "s", "type": "nominal"}, "text": {"field": "s"}}}
     ]}
  ],
  "resolve": {"scale": {"y": "independent"}}
}
],
"resolve": {"scale": {"x": "independent", "y": "independent", "xOffset": "independent", "fill": "independent", "shape": "independent", "color": "independent"}}
}
